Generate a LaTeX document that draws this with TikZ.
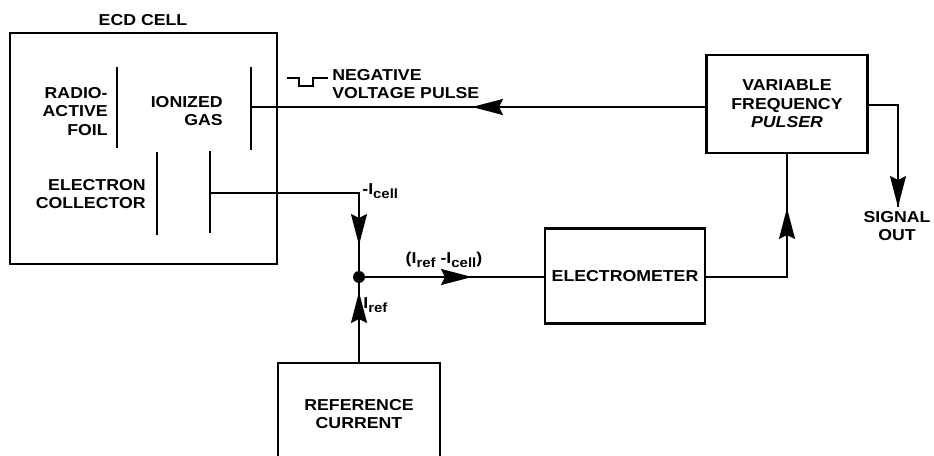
\documentclass[tikz,border=0pt]{standalone}
\usepackage{fontspec}
\setmainfont{Liberation Sans}[FakeStretch=1.12]
\usetikzlibrary{arrows.meta}

\newcommand{\tief}[1]{\raisebox{-0.45ex}{\fontsize{7.6}{8}\selectfont #1}}

\tikzset{
  kasten/.style={draw, line width=1.6pt, inner sep=0pt},
  platte/.style={line width=1.3pt},
  leitung/.style={line width=1.1pt},
  pfeil/.style={leitung, -{Stealth[length=0.62cm, width=0.32cm, inset=0.08cm]}},
  schrift/.style={inner sep=0pt, align=center, font=\fontsize{9}{10.5}\selectfont\bfseries},
}

\begin{document}
\begin{tikzpicture}[x=0.02cm, y=-0.02cm]
		\useasboundingbox (0,0) rectangle (934,456);
		\clip (0,0) rectangle (934,456);

		% ECD-Zelle
		\node[kasten, minimum width=5.34cm, minimum height=4.62cm] (zelle) at (143.5,148.5) {};
		\node[schrift] (zelletitel) at (143,20) {ECD CELL};
		\draw[platte] (117,67) -- (117,148);
		\draw[platte] (251,67) -- (251,150);
		\draw[platte] (157,152) -- (157,235);
		\draw[platte] (210,151) -- (210,233);
		\coordinate (gasplatte) at (251,107);
		\coordinate (kollektor) at (210,193);

		\node[schrift, anchor=east, align=right] (folie) at (108,111.5) {RADIO-\\ACTIVE\\FOIL};
		\node[schrift, anchor=east, align=right] (gas) at (223,111) {IONIZED\\GAS};
		\node[schrift, anchor=east, align=right] (sammler) at (146,194) {ELECTRON\\COLLECTOR};

		% Pulser, Elektrometer, Referenzstrom
		\node[kasten, schrift, minimum width=3.22cm, minimum height=1.96cm] (pulser) at (787,104) {VARIABLE\\FREQUENCY\\\textit{PULSER}};
		\node[kasten, schrift, minimum width=3.2cm, minimum height=1.9cm] (elektro) at (625,276) {ELECTROMETER};
		\node[kasten, schrift, minimum width=3.24cm, minimum height=2.04cm] (referenz) at (359,414) {REFERENCE\\CURRENT};

		% Knoten
		\node[circle, fill, inner sep=0pt, minimum size=0.24cm] (knoten) at (359,277) {};

		\coordinate (spitze1) at (472,107);
		\coordinate (ecke1) at (359,193);
		\coordinate (spitze2) at (359,245);
		\coordinate (spitze3) at (359,292);
		\coordinate (spitze4) at (472,277);
		\coordinate (ecke2) at (787,277);
		\coordinate (spitze5) at (787,208);
		\coordinate (ecke3) at (898,105);
		\coordinate (spitze6) at (898,207);

		% Leitungen
		\draw[leitung] (pulser.west |- gasplatte) -- (gasplatte);
		\draw[leitung] (kollektor) -- (ecke1) -- (knoten);
		\draw[leitung] (referenz.north) -- (knoten);
		\draw[leitung] (knoten) -- (elektro.west |- knoten);
		\draw[leitung] (elektro.east |- ecke2) -- (ecke2) -- (pulser.south);
		\draw[leitung] (pulser.east |- ecke3) -- (ecke3) -- (spitze6);

		% Pfeile
		\draw[pfeil] (pulser.west |- gasplatte) -- (spitze1);
		\draw[pfeil] (ecke1) -- (spitze2);
		\draw[pfeil] (referenz.north) -- (spitze3);
		\draw[pfeil] (knoten) -- (spitze4);
		\draw[pfeil] (ecke2) -- (spitze5);
		\draw[pfeil] (ecke3) -- (spitze6);

		% Impuls
		\draw[leitung] (287,78) -- (299,78) -- (299,86) -- (313,86) -- (313,78) -- (328,78);
		\node[schrift, anchor=west, align=left] (impuls) at (332,84) {NEGATIVE\\VOLTAGE PULSE};

		% Beschriftungen
		\node[schrift, anchor=west] (icell) at (362,191) {-I\tief{cell}};
		\node[schrift] (idiff) at (444,260) {(I\tief{ref} -I\tief{cell})};
		\node[schrift, anchor=west] (iref) at (363,305) {I\tief{ref}};
		\node[schrift] (signal) at (897,226) {SIGNAL\\OUT};
	\end{tikzpicture}
\end{document}
